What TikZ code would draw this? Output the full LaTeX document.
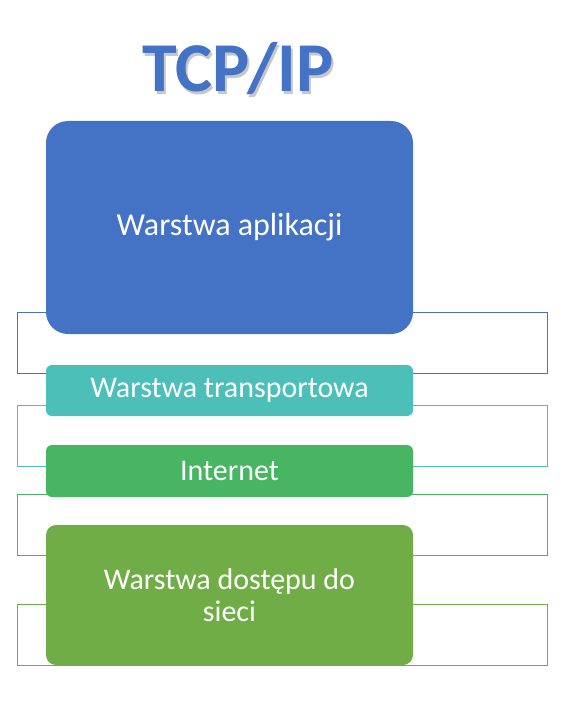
\documentclass[tikz,border=0pt]{standalone}
\usepackage{fontspec}
\setmainfont{Carlito}
\definecolor{appblue}{HTML}{4472C4}
\definecolor{transteal}{HTML}{4BBFB8}
\definecolor{netgreen}{HTML}{48B563}
\definecolor{accgreen}{HTML}{70AD47}
\newcommand\shadowtext[1]{\makebox[0pt][l]{\hspace{2pt}\raisebox{-2.5pt}{\color{black!22}#1}}#1}
\tikzset{
    layerframe/.style={draw=#1, line width=0.8pt, minimum width=530pt, minimum height=61pt, inner sep=0pt},
    layerbox/.style={fill=#1, minimum width=367pt, inner sep=0pt, text=white, align=center, font=\fontsize{30}{32}\selectfont},
    titletext/.style={text=appblue, anchor=base, inner sep=0pt, font=\fontsize{70}{80}\selectfont\bfseries}
}
\begin{document}
\begin{tikzpicture}[x=1pt,y=-1pt]
                \useasboundingbox (0,0) rectangle (566,706);
                \node[layerframe=appblue] (appframe) at (282,342.5) {};
                \node[layerframe=transteal] (transframe) at (282,435.5) {};
                \node[layerframe=netgreen] (netframe) at (282,525) {};
                \node[layerframe=accgreen] (accframe) at (282,634.5) {};
                \node[layerbox=appblue, minimum height=213pt, rounded corners=22pt, font=\fontsize{32}{36}\selectfont] (app) at (229.5,227.5) {Warstwa aplikacji};
                \node[layerbox=transteal, minimum height=51pt, rounded corners=6pt] (trans) at (229.5,390.5) {Warstwa transportowa};
                \node[layerbox=netgreen, minimum height=52pt, rounded corners=6pt] (net) at (229.5,471) {Internet};
                \node[layerbox=accgreen, minimum height=140pt, rounded corners=10pt] (acc) at (229.5,595) {Warstwa dostępu do\\sieci};
                \node[titletext] (title) at (238,92) {\shadowtext{TCP/IP}};
            \end{tikzpicture}
\end{document}
